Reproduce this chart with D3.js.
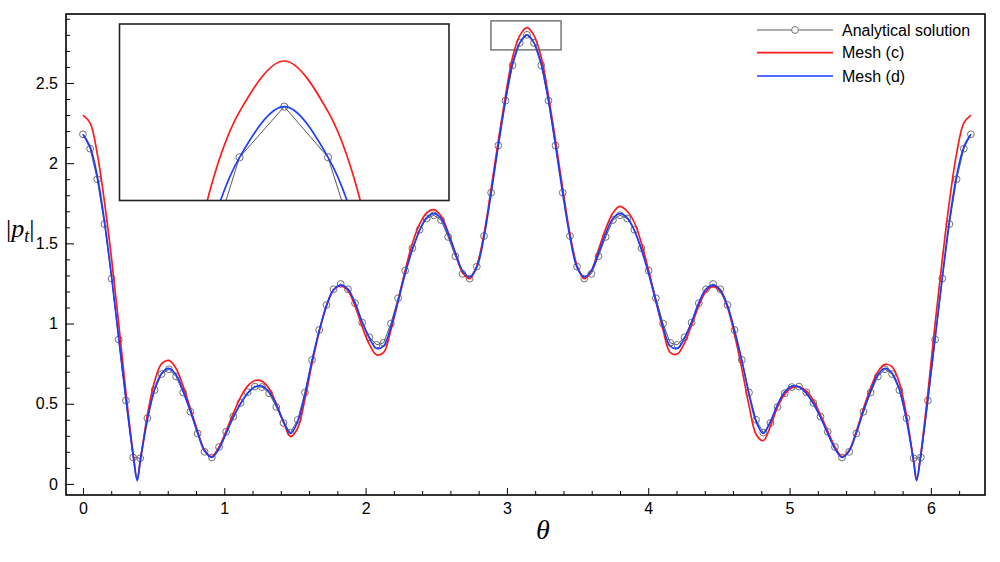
<!DOCTYPE html>
<html><head><meta charset="utf-8">
<script src="https://cdn.jsdelivr.net/npm/d3@7"></script>
<style>
body{margin:0;background:#fff;}
svg{display:block;font-family:"Liberation Sans",Arial,sans-serif;}
</style></head><body>
<svg id="chart" width="1000" height="562"></svg>
<script>
// ---- data ----
const theta = [0.000,0.051,0.101,0.152,0.203,0.253,0.304,0.355,0.405,0.456,
0.507,0.557,0.608,0.659,0.709,0.760,0.811,0.861,0.912,0.963,
1.013,1.064,1.115,1.165,1.216,1.267,1.317,1.368,1.419,1.469,
1.520,1.571,1.621,1.672,1.723,1.773,1.824,1.875,1.925,1.976,
2.027,2.078,2.128,2.179,2.230,2.280,2.331,2.382,2.432,2.483,
2.534,2.584,2.635,2.686,2.736,2.787,2.838,2.888,2.939,2.990,
3.040,3.091,3.142,3.192,3.243,3.294,3.344,3.395,3.446,3.496,
3.547,3.598,3.648,3.699,3.750,3.800,3.851,3.902,3.952,4.003,
4.054,4.105,4.155,4.206,4.257,4.307,4.358,4.409,4.459,4.510,
4.561,4.611,4.662,4.713,4.763,4.814,4.865,4.915,4.966,5.016,
5.067,5.118,5.169,5.219,5.270,5.321,5.371,5.422,5.473,5.523,
5.574,5.625,5.675,5.726,5.777,5.827,5.878,5.929,5.979,6.030,
6.081,6.131,6.182,6.233,6.283];

const analytical = [2.18,2.09,1.90,1.62,1.28,0.90,0.52,0.165,0.16,0.41,
0.585,0.685,0.715,0.67,0.57,0.45,0.315,0.20,0.165,0.23,
0.325,0.42,0.505,0.572,0.607,0.604,0.565,0.48,0.38,0.32,
0.40,0.57,0.773,0.96,1.116,1.214,1.247,1.214,1.127,1.006,
0.915,0.867,0.88,1.0,1.158,1.33,1.47,1.585,1.655,1.675,
1.645,1.54,1.42,1.31,1.28,1.355,1.546,1.816,2.11,2.39,
2.61,2.75,2.80,
2.75,2.61,2.39,2.11,1.816,1.546,1.355,1.28,1.31,1.42,
1.54,1.645,1.675,1.655,1.585,1.47,1.33,1.158,1.0,0.88,
0.867,0.915,1.006,1.127,1.214,1.247,1.214,1.116,0.96,0.773,
0.57,0.40,0.32,0.38,0.48,0.565,0.604,0.607,0.572,0.505,
0.42,0.325,0.23,0.165,0.20,0.315,0.45,0.57,0.67,0.715,
0.685,0.585,0.41,0.16,0.165,0.52,0.90,1.28,1.62,1.90,
2.09,2.18];

const meshC = [2.30,2.25,2.06,1.76,1.40,1.00,0.57,0.19,0.14,0.43,
0.64,0.75,0.77,0.72,0.61,0.47,0.33,0.21,0.17,0.23,
0.33,0.44,0.54,0.61,0.645,0.64,0.595,0.50,0.385,0.295,
0.35,0.53,0.75,0.95,1.11,1.21,1.235,1.205,1.11,0.98,
0.87,0.805,0.82,0.96,1.14,1.33,1.50,1.62,1.69,1.71,
1.67,1.57,1.44,1.32,1.28,1.36,1.56,1.84,2.14,2.42,
2.66,2.795,2.845,
2.795,2.66,2.42,2.14,1.84,1.56,1.36,1.28,1.33,1.46,
1.59,1.69,1.73,1.70,1.63,1.50,1.33,1.14,0.96,0.82,
0.81,0.88,0.99,1.11,1.20,1.23,1.20,1.10,0.93,0.72,
0.49,0.31,0.27,0.36,0.48,0.56,0.60,0.605,0.58,0.52,
0.43,0.33,0.23,0.17,0.21,0.33,0.47,0.60,0.70,0.745,
0.73,0.63,0.43,0.14,0.19,0.57,1.00,1.40,1.76,2.06,
2.25,2.30];

const meshD = [2.18,2.10,1.92,1.64,1.29,0.91,0.53,0.18,0.14,0.40,
0.59,0.69,0.72,0.68,0.58,0.455,0.32,0.205,0.165,0.22,
0.315,0.415,0.50,0.565,0.605,0.61,0.575,0.495,0.39,0.315,
0.39,0.56,0.77,0.955,1.11,1.21,1.24,1.215,1.13,1.01,
0.91,0.845,0.86,0.98,1.14,1.31,1.46,1.58,1.66,1.685,
1.655,1.56,1.44,1.33,1.29,1.35,1.54,1.81,2.11,2.39,
2.62,2.75,2.80,
2.75,2.62,2.39,2.11,1.81,1.54,1.35,1.29,1.33,1.44,
1.56,1.655,1.685,1.66,1.58,1.46,1.31,1.14,0.98,0.86,
0.845,0.91,1.01,1.13,1.215,1.24,1.21,1.11,0.955,0.77,
0.56,0.39,0.315,0.39,0.495,0.575,0.61,0.605,0.565,0.50,
0.415,0.315,0.22,0.165,0.205,0.32,0.455,0.58,0.68,0.72,
0.69,0.59,0.40,0.14,0.18,0.53,0.91,1.29,1.64,1.92,
2.10,2.18];

// sharp minima of the mesh curves
const dipTheta = [0.384, 5.899];
const dipC = [0.03, 0.03];
const dipD = [0.02, 0.02];

const xTicks = [0,1,2,3,4,5,6];
const xTickLabels = ["0","1","2","3","4","5","6"];
const yTicks = [0,0.5,1,1.5,2,2.5];
const yTickLabels = ["0","0.5","1","1.5","2","2.5"];
const seriesNames = ["Analytical solution","Mesh (c)","Mesh (d)"];
const seriesColors = ["#5a5a5a","#ff1a1a","#1a3cff"];

const xDomain = [-0.12, 6.383];
const yDomain = [-0.069, 2.93];
const zoomBoxTheta = [2.887, 3.383];
const zoomBoxP = [2.706, 2.887];
const insetTheta = [2.954, 3.330];
const insetP = [2.7074, 2.8815];

// ---- drawing ----
const svg = d3.select("#chart");
const M = {l:66, r:985, t:14, b:495};
const x = d3.scaleLinear().domain(xDomain).range([M.l, M.r]);
const y = d3.scaleLinear().domain(yDomain).range([M.b, M.t]);

const anaPts = theta.map((t,i)=>({t, v:analytical[i]}));
function meshPts(vals, dips){
  const pts = theta.map((t,i)=>({t, v:vals[i]}));
  dipTheta.forEach((t,i)=>pts.push({t, v:dips[i]}));
  return pts.sort((a,b)=>a.t-b.t);
}
const cPts = meshPts(meshC, dipC);
const dPts = meshPts(meshD, dipD);

const defs = svg.append("defs");
defs.append("clipPath").attr("id","clipMain").append("rect")
  .attr("x",M.l).attr("y",M.t).attr("width",M.r-M.l).attr("height",M.b-M.t);

const IN = {l:119.5, r:449, t:24, b:200.5};
defs.append("clipPath").attr("id","clipInset").append("rect")
  .attr("x",IN.l).attr("y",IN.t).attr("width",IN.r-IN.l).attr("height",IN.b-IN.t);

function drawSeries(g, xs, ys, r){
  const lineA = d3.line().x(d=>xs(d.t)).y(d=>ys(d.v));
  const lineS = d3.line().x(d=>xs(d.t)).y(d=>ys(d.v)).curve(d3.curveCatmullRom.alpha(0.5));
  g.append("path").datum(anaPts).attr("d",lineA)
    .attr("fill","none").attr("stroke",seriesColors[0]).attr("stroke-width",1);
  g.selectAll("circle.ana").data(anaPts).join("circle").attr("class","ana")
    .attr("cx",d=>xs(d.t)).attr("cy",d=>ys(d.v)).attr("r",r)
    .attr("fill","none").attr("stroke","#707070").attr("stroke-width",1);
  g.append("path").datum(cPts).attr("d",lineS)
    .attr("fill","none").attr("stroke",seriesColors[1]).attr("stroke-width",1.7);
  g.append("path").datum(dPts).attr("d",lineS)
    .attr("fill","none").attr("stroke",seriesColors[2]).attr("stroke-width",1.7);
}

const gMain = svg.append("g").attr("clip-path","url(#clipMain)");
drawSeries(gMain, x, y, 3.4);

// axes (inward ticks)
const xMinor = d3.range(1,32).map(i=>i*0.2).filter(v=>Math.abs(v-Math.round(v))>1e-6);
const yMinor = d3.range(1,30).map(i=>i*0.1).filter(v=>Math.abs(v*2-Math.round(v*2))>1e-6);

function styleAxis(g){
  g.select(".domain").remove();
  g.selectAll("line").attr("stroke","#000").attr("stroke-width",1);
  g.selectAll("text").attr("font-size",16).attr("fill","#000")
   .attr("font-family",'"Liberation Sans",Arial,sans-serif');
}
svg.append("g").attr("transform",`translate(0,${M.b})`)
  .call(d3.axisBottom(x).tickValues(xMinor).tickFormat("").tickSize(-4)).call(styleAxis);
svg.append("g").attr("transform",`translate(0,${M.b})`)
  .call(d3.axisBottom(x).tickValues(xTicks).tickFormat((d,i)=>xTickLabels[i]).tickSize(-7).tickPadding(8)).call(styleAxis);
svg.append("g").attr("transform",`translate(${M.l},0)`)
  .call(d3.axisLeft(y).tickValues(yMinor).tickFormat("").tickSize(-4)).call(styleAxis);
svg.append("g").attr("transform",`translate(${M.l},0)`)
  .call(d3.axisLeft(y).tickValues(yTicks).tickFormat((d,i)=>yTickLabels[i]).tickSize(-8).tickPadding(8)).call(styleAxis);

// frame
svg.append("rect").attr("x",M.l).attr("y",M.t).attr("width",M.r-M.l).attr("height",M.b-M.t)
  .attr("fill","none").attr("stroke","#000").attr("stroke-width",1.6);

// zoom box
svg.append("rect")
  .attr("x",x(zoomBoxTheta[0])).attr("y",y(zoomBoxP[1]))
  .attr("width",x(zoomBoxTheta[1])-x(zoomBoxTheta[0]))
  .attr("height",y(zoomBoxP[0])-y(zoomBoxP[1]))
  .attr("fill","none").attr("stroke","#555").attr("stroke-width",1.2);

// inset
svg.append("rect").attr("x",IN.l).attr("y",IN.t).attr("width",IN.r-IN.l).attr("height",IN.b-IN.t)
  .attr("fill","#fff");
const xi = d3.scaleLinear().domain(insetTheta).range([IN.l, IN.r]);
const yi = d3.scaleLinear().domain(insetP).range([IN.b, IN.t]);
const gIn = svg.append("g").attr("clip-path","url(#clipInset)");
drawSeries(gIn, xi, yi, 3.6);
svg.append("rect").attr("x",IN.l).attr("y",IN.t).attr("width",IN.r-IN.l).attr("height",IN.b-IN.t)
  .attr("fill","none").attr("stroke","#222").attr("stroke-width",1.6);

// axis titles
svg.append("text").attr("x",543).attr("y",539).attr("text-anchor","middle")
  .attr("font-family",'"Liberation Serif","DejaVu Serif",serif').attr("font-style","italic")
  .attr("font-size",28).text("θ");
const yt = svg.append("text").attr("x",6).attr("y",237)
  .attr("font-family",'"Liberation Serif","DejaVu Serif",serif').attr("font-size",26);
yt.append("tspan").text("|");
yt.append("tspan").attr("font-style","italic").text("p");
yt.append("tspan").attr("font-style","italic").attr("font-size",18).attr("dy",5).text("t");
yt.append("tspan").attr("dy",-5).text("|");

// legend
const legY = [30, 52.7, 76];
const lg = svg.append("g");
seriesNames.forEach((name,i)=>{
  lg.append("line").attr("x1",757).attr("x2",833).attr("y1",legY[i]).attr("y2",legY[i])
    .attr("stroke",seriesColors[i]).attr("stroke-width",i===0?1:1.7);
  if(i===0) lg.append("circle").attr("cx",795).attr("cy",legY[i]).attr("r",3.4)
    .attr("fill","#fff").attr("stroke","#707070");
  lg.append("text").attr("x",842).attr("y",legY[i]).attr("dy","0.36em")
    .attr("font-size",16).attr("fill","#000").text(name);
});
</script>
</body></html>
